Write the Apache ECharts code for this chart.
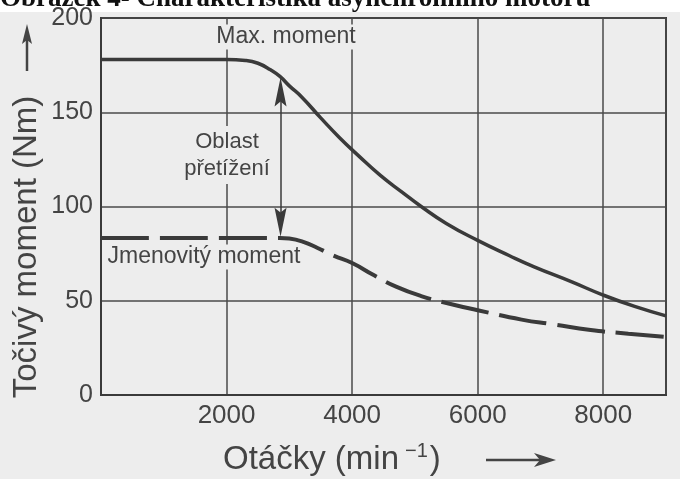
<!DOCTYPE html>
<html>
<head>
<meta charset="utf-8">
<script src="https://cdn.jsdelivr.net/npm/echarts@6/dist/echarts.min.js"></script>
<style>
  html, body { margin: 0; padding: 0; background: #ededed; }
  #main { width: 680px; height: 479px; }
</style>
</head>
<body>
<div id="main"></div>
<script>
// otacky (min^-1) a momenty (Nm)
const maxMoment = [
  [0, 178], [2000, 178], [2300, 177.5], [2500, 176], [2700, 172.5], [2850, 169],
  [3000, 164], [3200, 158], [3500, 147], [3800, 136.5], [4100, 127], [4450, 116.5],
  [4800, 107.5], [5100, 100], [5500, 91], [6000, 82], [6500, 74], [6900, 68],
  [7500, 60], [8000, 53], [8500, 47], [9000, 42]
];
const jmenovityMoment = [
  [0, 83.3], [2850, 83.3], [3000, 83], [3200, 81.5], [3450, 78], [3700, 74],
  [4000, 70], [4350, 63.5], [4700, 57.5], [5100, 52.5], [5600, 48], [6000, 45],
  [6700, 40], [7200, 37.5], [7800, 34.5], [8400, 32.5], [9000, 30.8]
];
const yTicks = [0, 50, 100, 150, 200];
const xTicks = [2000, 4000, 6000, 8000];
// dvojita sipka "Oblast pretizeni"
const arrowRpm = 2860;
const arrowTop = 168.5;
const arrowBottom = 84;

const ink = '#3a3a3a';
const txt = '#444444';
const paper = '#ededed';
const sans = 'Liberation Sans, Arial, sans-serif';

var myChart = echarts.init(document.getElementById('main'));

myChart.setOption({
  backgroundColor: paper,
  animation: false,
  grid: {
    left: 101, right: 14, top: 18, bottom: 84,
    show: true, borderColor: ink, borderWidth: 2
  },
  xAxis: {
    type: 'value',
    min: 0, max: 9000, interval: 2000,
    axisLine: { lineStyle: { color: ink, width: 2 } },
    axisTick: { show: false },
    splitLine: { lineStyle: { color: '#4a4a4a', width: 1.5 } },
    axisLabel: {
      color: txt, fontFamily: sans, fontSize: 26, margin: 8,
      formatter: v => xTicks.indexOf(v) >= 0 ? String(v) : ''
    }
  },
  yAxis: {
    type: 'value',
    min: 0, max: 200, interval: 50,
    axisLine: { show: true, lineStyle: { color: ink, width: 2 } },
    axisTick: { show: false },
    splitLine: { lineStyle: { color: '#4a4a4a', width: 1.5 } },
    axisLabel: {
      color: txt, fontFamily: sans, fontSize: 25, margin: 8,
      formatter: v => yTicks.indexOf(v) >= 0 ? String(v) : ''
    }
  },
  series: [
    {
      name: 'Max. moment',
      type: 'line',
      smooth: 0.5,
      symbol: 'none',
      data: maxMoment,
      lineStyle: { color: ink, width: 3.5 },
      markLine: {
        silent: true,
        symbol: ['none', 'none'],
        label: { show: false },
        lineStyle: { color: ink, width: 1.5, type: 'solid' },
        data: [[{ coord: [arrowRpm, arrowTop - 12] }, { coord: [arrowRpm, arrowBottom + 12] }]]
      },
      markPoint: {
        silent: true,
        label: { show: false },
        itemStyle: { color: ink },
        data: [
          { coord: [arrowRpm, arrowTop], symbol: 'path://M5,0 L10,30 L5,25 L0,30 Z', symbolSize: [12, 29], symbolOffset: [0, '50%'] },
          { coord: [arrowRpm, arrowBottom], symbol: 'path://M5,0 L10,30 L5,25 L0,30 Z', symbolSize: [12, 29], symbolRotate: 180, symbolOffset: [0, '-50%'] }
        ]
      }
    },
    {
      name: 'Jmenovitý moment',
      type: 'line',
      smooth: 0.5,
      symbol: 'none',
      data: jmenovityMoment,
      lineStyle: { color: ink, width: 4, type: [48, 11] }
    }
  ],
  graphic: [
    { type: 'rect', shape: { x: 0, y: 0, width: 680, height: 12 }, style: { fill: '#ffffff' }, z: -1 },
    {
      type: 'text', x: 0, y: 13,
      style: {
        text: 'Obrázek 4- Charakteristika asynchronního motoru',
        font: 'bold 27px Liberation Serif, Times New Roman, serif',
        fill: '#111', verticalAlign: 'bottom', align: 'left'
      }
    },
    {
      type: 'text', x: 286, y: 37, z: 10,
      style: { text: 'Max. moment', font: '23px ' + sans, fill: txt, align: 'center', verticalAlign: 'middle', backgroundColor: paper, padding: [1, 3] }
    },
    {
      type: 'text', x: 227, y: 155, z: 10,
      style: { text: 'Oblast\npřetížení', font: '22px ' + sans, lineHeight: 27, fill: txt, align: 'center', verticalAlign: 'middle', backgroundColor: paper, padding: [2, 3] }
    },
    {
      type: 'text', x: 204, y: 257, z: 10,
      style: { text: 'Jmenovitý moment', font: '23px ' + sans, fill: txt, align: 'center', verticalAlign: 'middle', backgroundColor: paper, padding: [1, 3] }
    },
    {
      type: 'text', x: 27, y: 247, rotation: Math.PI / 2,
      style: { text: 'Točivý moment (Nm)', font: '33px ' + sans, fill: txt, align: 'center', verticalAlign: 'middle' }
    },
    { type: 'line', shape: { x1: 27, y1: 71, x2: 27, y2: 36 }, style: { stroke: txt, lineWidth: 2.5 } },
    { type: 'polygon', shape: { points: [[27, 24], [32, 44], [27, 40], [22, 44]] }, style: { fill: txt } },
    {
      type: 'text', x: 223, y: 460,
      style: {
        text: '{a|Otáčky (min}{s|−1}{a|)}',
        fill: txt, align: 'left', verticalAlign: 'middle',
        rich: {
          a: { fontFamily: sans, fontSize: 33, fill: txt },
          s: { fontFamily: sans, fontSize: 20, fill: txt, padding: [0, 2, 18, 6] }
        }
      }
    },
    { type: 'line', shape: { x1: 486, y1: 460, x2: 540, y2: 460 }, style: { stroke: txt, lineWidth: 2.5 } },
    { type: 'polygon', shape: { points: [[556, 460], [534, 453], [540, 460], [534, 467]] }, style: { fill: txt } }
  ]
});
</script>
</body>
</html>
